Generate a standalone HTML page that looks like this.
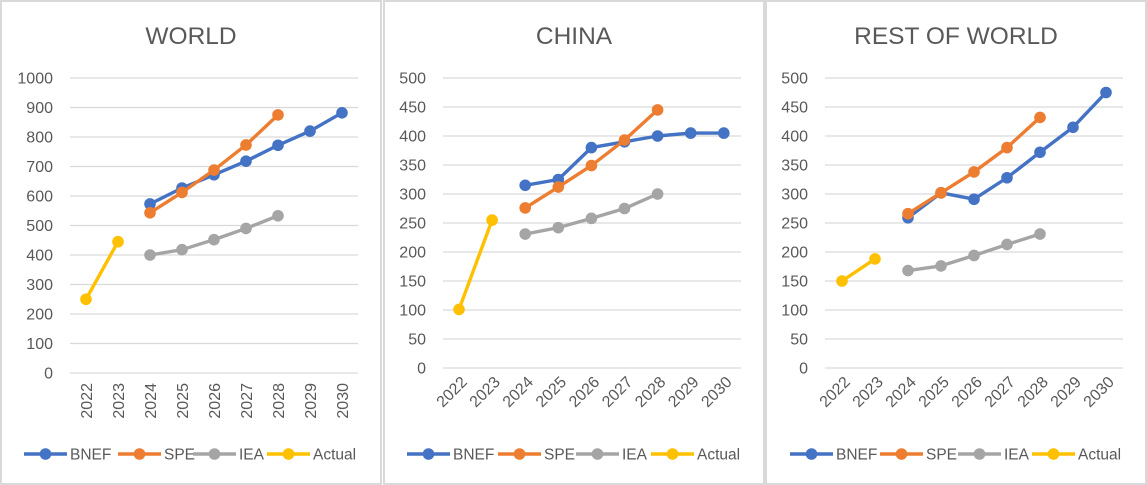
<!DOCTYPE html>
<html><head><meta charset="utf-8"><style>
html,body{margin:0;padding:0;background:#fff;}
svg{display:block;font-family:"Liberation Sans",sans-serif;}
</style></head><body>
<svg id="s" width="1147" height="485" xmlns="http://www.w3.org/2000/svg"></svg>
<script>
const years = ["2022","2023","2024","2025","2026","2027","2028","2029","2030"];
const seriesNames = ["BNEF","SPE","IEA","Actual"];
const worldBNEF = [null,null,573,627,672,718,772,820,882];
const worldSPE = [null,null,543,612,688,773,875,null,null];
const worldIEA = [null,null,400,418,452,490,533,null,null];
const worldActual = [250,445,null,null,null,null,null,null,null];
const chinaBNEF = [null,null,315,325,380,390,400,405,405];
const chinaSPE = [null,null,276,312,349,393,445,null,null];
const chinaIEA = [null,null,231,242,258,275,300,null,null];
const chinaActual = [101,255,null,null,null,null,null,null,null];
const rowBNEF = [null,null,259,302,291,328,372,415,475];
const rowSPE = [null,null,266,302,338,380,432,null,null];
const rowIEA = [null,null,168,176,194,213,231,null,null];
const rowActual = [150,188,null,null,null,null,null,null,null];
const worldTicks = [0,100,200,300,400,500,600,700,800,900,1000];
const smallTicks = [0,50,100,150,200,250,300,350,400,450,500];
const colors = ["#4472C4","#ED7D31","#A5A5A5","#FFC000"];
const NS="http://www.w3.org/2000/svg";
const svg=document.getElementById('s');
function mk(tag,attrs,parent){const e=document.createElementNS(NS,tag);for(const k in attrs)e.setAttribute(k,attrs[k]);(parent||svg).appendChild(e);return e;}
const panels=[
 {title:"WORLD",name:"world",px:1,pw:380,ticks:worldTicks,max:1000,top:78,bot:373,gx0:70,gx1:358,x0:86,step:32,rot:90,data:[worldBNEF,worldSPE,worldIEA,worldActual],leg:[24,118,193,267]},
 {title:"CHINA",name:"china",px:384,pw:380,ticks:smallTicks,max:500,top:78,bot:368,gx0:443,gx1:741,x0:459,step:33.1,rot:45,data:[chinaBNEF,chinaSPE,chinaIEA,chinaActual],leg:[407,498,576,651]},
 {title:"REST OF WORLD",name:"rest-of-world",px:766,pw:380,ticks:smallTicks,max:500,top:78,bot:368,gx0:825,gx1:1123,x0:842,step:33,rot:45,data:[rowBNEF,rowSPE,rowIEA,rowActual],leg:[790,880,958,1032]}
];
panels.forEach(p=>{
 const g=mk('g',{});
 
 
 const r=mk('rect',{x:p.px,y:1,width:p.pw,height:483,fill:'#fff',stroke:'#d9d9d9','stroke-width':2},g);
 
 
 const t=mk('text',{x:p.px+p.pw/2,y:44,'text-anchor':'middle','font-size':24.5,fill:'#595959'},g);
 t.textContent=p.title;
 
 
 const yS=v=>p.bot-(v/p.max)*(p.bot-p.top);
 const xS=i=>p.x0+i*p.step;
 p.ticks.forEach(v=>{
  const l=mk('line',{x1:p.gx0,x2:p.gx1,y1:yS(v),y2:yS(v),stroke:'#d9d9d9','stroke-width':1.3},g);
  
  
  const tt=mk('text',{x:p.gx0-17,y:yS(v)+5.5,'text-anchor':'end','font-size':16,fill:'#595959'},g);
  tt.textContent=v;
  
  
 });
 years.forEach((y,i)=>{
  let tx;
  if(p.rot===90){tx=mk('text',{x:0,y:0,'text-anchor':'end','font-size':16,fill:'#595959',transform:`translate(${xS(i)+6},${p.bot+10}) rotate(-90)`},g);}
  else{tx=mk('text',{x:0,y:0,'text-anchor':'end','font-size':16,fill:'#595959',transform:`translate(${xS(i)+9},${p.bot+15}) rotate(-45)`},g);}
  tx.textContent=y;
  
  
 });
 p.data.forEach((arr,si)=>{
  const pts=[];arr.forEach((v,i)=>{if(v!==null)pts.push([xS(i),yS(v)]);});
  const pl=mk('polyline',{points:pts.map(q=>q.join(',')).join(' '),fill:'none',stroke:colors[si],'stroke-width':3.4,'stroke-linejoin':'round'},g);
  
  
  pts.forEach(q=>{
   const c=mk('circle',{cx:q[0],cy:q[1],r:5.8,fill:colors[si]},g);
   
   
  });
 });
 seriesNames.forEach((n,si)=>{
  const lx=p.leg[si];
  const lg=mk('g',{},g);
  
  
  mk('line',{x1:lx,x2:lx+43,y1:454,y2:454,stroke:colors[si],'stroke-width':3.4},lg);
  mk('circle',{cx:lx+21.5,cy:454,r:5.8,fill:colors[si]},lg);
  const lt=mk('text',{x:lx+46,y:459.5,'font-size':15.5,fill:'#595959'},lg);
  lt.textContent=n;
 });
});
</script>
</body></html>
